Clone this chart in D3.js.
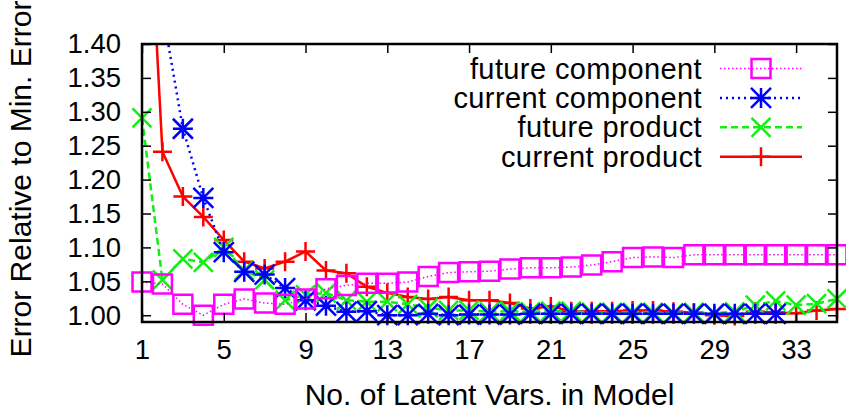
<!DOCTYPE html>
<html>
<head>
<meta charset="utf-8">
<script src="https://cdn.jsdelivr.net/npm/d3@7"></script>
<style>
html,body{margin:0;padding:0;background:#fff;}
svg{display:block;font-family:"Liberation Sans",Arial,Helvetica,sans-serif;}
</style>
</head>
<body>
<svg id="chart" width="846" height="414"></svg>
<script>
const latentVars = d3.range(1, 36);
const xTicks = [1, 5, 9, 13, 17, 21, 25, 29, 33];
const yTicks = [1.00, 1.05, 1.10, 1.15, 1.20, 1.25, 1.30, 1.35, 1.40];
const seriesNames = ["future component", "current component", "future product", "current product"];

const futureComponent = [1.049, 1.046, 1.016, 1.000, 1.016, 1.024, 1.018, 1.016, 1.024, 1.039,
  1.044, 1.047, 1.047, 1.049, 1.057, 1.063, 1.064, 1.065, 1.068, 1.070,
  1.070, 1.071, 1.074, 1.079, 1.085, 1.086, 1.085, 1.089, 1.089, 1.089,
  1.089, 1.089, 1.089, 1.089, 1.089];
const currentComponent = [1.75, 1.45, 1.275, 1.173, 1.093, 1.064, 1.060, 1.040, 1.022, 1.014,
  1.005, 1.006, 1.000, 1.000, 1.002, 1.000, 1.001, 1.001, 1.001, 1.002,
  1.002, 1.002, 1.002, 1.002, 1.002, 1.002, 1.002, 1.002, 1.002, 1.002,
  1.002, 1.002];
const futureProduct = [1.291, 1.052, 1.083, 1.078, 1.100, 1.066, 1.052, 1.022, 1.030, 1.033,
  1.022, 1.020, 1.020, 1.016, 1.011, 1.007, 1.007, 1.005, 1.006, 1.005,
  1.006, 1.006, 1.004, 1.004, 1.004, 1.004, 1.003, 1.004, 1.003, 1.005,
  1.015, 1.021, 1.015, 1.017, 1.024];
const currentProduct = [1.81, 1.241, 1.175, 1.145, 1.111, 1.079, 1.069, 1.079, 1.094, 1.066,
  1.062, 1.042, 1.033, 1.027, 1.024, 1.027, 1.022, 1.022, 1.018, 1.010,
  1.013, 1.006, 1.006, 1.006, 1.007, 1.007, 1.005, 1.004, 1.000, 0.999,
  1.005, 1.004, 1.003, 1.007, 1.009];

const svg = d3.select("#chart");
const pL = 142, pR = 837, pT = 44, pB = 322;
const x = d3.scaleLinear().domain([1, 35]).range([pL, pR]);
const y = d3.scaleLinear().domain([0.99, 1.40]).range([pB, pT]);

const series = [
  {name: seriesNames[0], values: futureComponent, color: "#ff00ff", dash: "1.5,2.5", lw: 1.5, marker: "square"},
  {name: seriesNames[1], values: currentComponent, color: "#0000ff", dash: "2,4", lw: 2.5, marker: "star"},
  {name: seriesNames[2], values: futureProduct, color: "#11ee11", dash: "7,4", lw: 2.5, marker: "cross"},
  {name: seriesNames[3], values: currentProduct, color: "#ff0000", dash: null, lw: 2.5, marker: "plus"}
];

svg.append("defs").append("clipPath").attr("id", "clip")
  .append("rect").attr("x", pL).attr("y", pT).attr("width", pR - pL).attr("height", pB - pT);

function markerPath(type, s) {
  const p = d3.path();
  if (type === "square") {
    p.rect(-s, -s, 2 * s, 2 * s);
  } else if (type === "plus" || type === "star") {
    p.moveTo(-s, 0); p.lineTo(s, 0); p.moveTo(0, -s); p.lineTo(0, s);
  }
  if (type === "cross" || type === "star") {
    p.moveTo(-s, -s); p.lineTo(s, s); p.moveTo(-s, s); p.lineTo(s, -s);
  }
  return p.toString();
}
const markerSize = {square: 9.5, star: 10, cross: 9.5, plus: 9.5};

// draw order: red first, magenta last (on top)
const drawOrder = [3, 2, 1, 0];
const line = d3.line().x((d, i) => x(i + 1)).y(d => y(d));

drawOrder.forEach(k => {
  const s = series[k];
  const g = svg.append("g");
  g.append("path").attr("d", line(s.values))
    .attr("clip-path", "url(#clip)")
    .attr("fill", "none").attr("stroke", s.color).attr("stroke-width", s.lw)
    .attr("stroke-dasharray", s.dash).attr("stroke-linejoin", "round");
  const pts = s.values.map((v, i) => ({xv: i + 1, v})).filter(d => d.v <= 1.40 && d.v >= 0.99);
  g.selectAll("path.m").data(pts).enter().append("path").attr("class", "m")
    .attr("transform", d => `translate(${x(d.xv)},${y(d.v)})`)
    .attr("d", markerPath(s.marker, markerSize[s.marker]))
    .attr("fill", "none").attr("stroke", s.color).attr("stroke-width", 2.5);
});

// axes (inward ticks, mirrored)
const tickLen = 9;
const axG = svg.append("g");
axG.append("g").attr("transform", `translate(0,${pB})`)
  .call(d3.axisBottom(x).tickValues(xTicks).tickSize(-tickLen).tickPadding(17).tickFormat(d3.format("d")));
axG.append("g").attr("transform", `translate(0,${pT})`)
  .call(d3.axisTop(x).tickValues(xTicks).tickSize(-tickLen).tickFormat(""));
axG.append("g").attr("transform", `translate(${pL},0)`)
  .call(d3.axisLeft(y).tickValues(yTicks).tickSize(-tickLen).tickPadding(21).tickFormat(d3.format(".2f")));
axG.append("g").attr("transform", `translate(${pR},0)`)
  .call(d3.axisRight(y).tickValues(yTicks).tickSize(-tickLen).tickFormat(""));
axG.selectAll(".domain").remove();
axG.selectAll(".tick line").attr("stroke", "#000").attr("stroke-width", 1.5);
axG.selectAll(".tick text").attr("fill", "#000").attr("font-size", 27.5)
  .attr("font-family", "Liberation Sans, Arial, sans-serif");

svg.append("rect").attr("x", pL).attr("y", pT).attr("width", pR - pL).attr("height", pB - pT)
  .attr("fill", "none").attr("stroke", "#000").attr("stroke-width", 2.5);

// titles
svg.append("text").attr("x", (pL + pR) / 2).attr("y", 405).attr("text-anchor", "middle")
  .attr("font-size", 30).text("No. of Latent Vars. in Model");
svg.append("text").attr("transform", "translate(31,179) rotate(-90)").attr("text-anchor", "middle")
  .attr("font-size", 30).text("Error Relative to Min. Error");

// legend
const leg = svg.append("g");
series.forEach((s, i) => {
  const ry = 68.5 + i * 29.4;
  leg.append("text").attr("x", 702).attr("y", ry + 10).attr("text-anchor", "end")
    .attr("font-size", 29).attr("letter-spacing", 0.4).text(s.name);
  leg.append("line").attr("x1", 720).attr("x2", 802).attr("y1", ry).attr("y2", ry)
    .attr("stroke", s.color).attr("stroke-width", s.lw).attr("stroke-dasharray", s.dash);
  leg.append("path").attr("transform", `translate(761,${ry})`)
    .attr("d", markerPath(s.marker, markerSize[s.marker]))
    .attr("fill", "none").attr("stroke", s.color).attr("stroke-width", 2.5);
});
</script>
</body>
</html>
